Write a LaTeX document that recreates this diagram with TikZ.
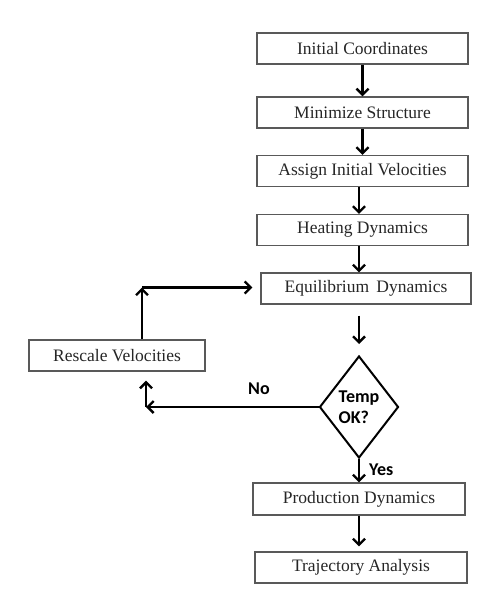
\documentclass[tikz,border=0pt]{standalone}
\usepackage{fontspec}
\setmainfont{Liberation Serif}
\newfontfamily\calibri{Carlito}
\usetikzlibrary{shapes.geometric,arrows.meta}

\begin{document}
\begin{tikzpicture}[x=1pt,y=1pt]
	\tikzstyle{every node}+=[inner sep=0pt]
	\tikzstyle{stage}=[draw=black!65, line width=1.2pt, minimum width=211pt, minimum height=31pt, text=black!85, font=\fontsize{17.5}{20}\selectfont]
	\tikzstyle{flow}=[black, line width=2.4pt, -{Straight Barb[length=6pt,width=12pt]}]
	\tikzstyle{answer}=[font=\calibri\bfseries\fontsize{18}{21}\selectfont]
	\useasboundingbox (0,0) rectangle (482,-615);
	% main chain
	\node [stage] (init) at (362.5,-48.5) {Initial Coordinates};
	\node [stage] (mini) at (362.5,-112.5) {Minimize Structure};
	\node [stage] (assign) at (362.5,-171) {Assign Initial Velocities};
	\node [stage] (heat) at (362.5,-230) {Heating Dynamics};
	\node [stage, minimum width=210pt] (equil) at (366,-288.5) {Equilibrium\, Dynamics};
	\node [diamond, draw=black, line width=2pt, minimum width=79pt, minimum height=102pt, inner sep=-4pt, align=left, answer] (temp) at (359,-407) {Temp\\OK?};
	\node [stage, minimum width=212pt, minimum height=32pt] (prod) at (359,-499) {Production Dynamics};
	\node [stage, minimum width=212pt] (traj) at (361,-567.5) {Trajectory Analysis};
	\node [stage, minimum width=176pt] (rescale) at (117,-355.5) {Rescale Velocities};
	% loop corners
	\coordinate (back) at (146,-407);
	\coordinate (up) at (142,-287.5);
	\draw [flow] (init) -- (mini);
	\draw [flow] (mini) -- (assign);
	\draw [flow] (assign.south -| temp) -- (heat.north -| temp);
	\draw [flow] (heat.south -| temp) -- (equil.north -| temp);
	\draw [flow, shorten <=11pt, shorten >=11pt] (equil.south -| temp) -- (temp.north);
	\draw [flow] (temp.south) -- (prod.north -| temp) node [answer, pos=0.45, anchor=west, xshift=9pt] {Yes};
	\draw [flow, shorten >=5pt] (prod.south -| temp) -- (traj.north -| temp);
	\draw [flow] (temp.west) -- (back) node [answer, pos=0.345, above=11pt] {No};
	\draw [flow, shorten >=9pt] (back) -- (back |- rescale.south);
	\draw [flow] (rescale.north -| up) -- (up);
	\draw [flow, shorten >=8pt] (up) -- (up -| equil.west);
\end{tikzpicture}
\end{document}
